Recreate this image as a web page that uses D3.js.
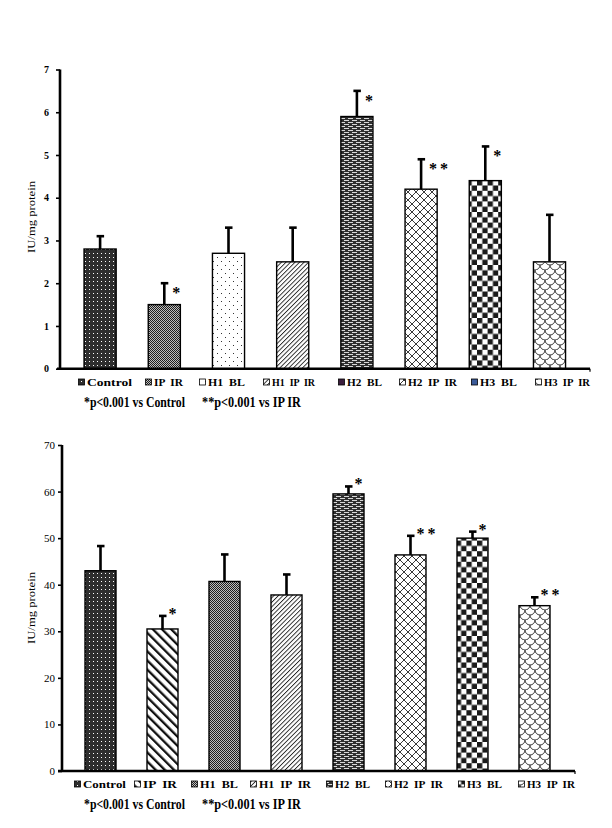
<!DOCTYPE html>
<html><head><meta charset="utf-8">
<script src="https://cdn.jsdelivr.net/npm/d3@7"></script>
<style>
html,body{margin:0;padding:0;background:#fff;}
svg{display:block;}
text{font-family:"Liberation Serif","Times New Roman",serif;fill:#000;}
</style></head>
<body>
<script>
// ---------- DATA ----------
const categories = ["Control","IP IR","H1 BL","H1 IP IR","H2 BL","H2 IP IR","H3 BL","H3 IP IR"];
const legendLabels = ["Control","IP  IR","H1  BL","H1  IP  IR","H2  BL","H2  IP  IR","H3  BL","H3  IP  IR"];

const topValues = [2.8, 1.5, 2.7, 2.5, 5.9, 4.2, 4.4, 2.5];
const topErrors = [0.3, 0.5, 0.6, 0.8, 0.6, 0.7, 0.8, 1.1];
const topSig    = ["", "*", "", "", "*", "**", "*", ""];
const topTicks  = [0, 1, 2, 3, 4, 5, 6, 7];

const bottomValues = [43.0, 30.5, 40.7, 37.8, 59.5, 46.4, 50.0, 35.5];
const bottomErrors = [5.3, 2.8, 5.8, 4.4, 1.6, 4.1, 1.4, 1.8];
const bottomSig    = ["", "*", "", "", "*", "**", "*", "**"];
const bottomTicks  = [0, 10, 20, 30, 40, 50, 60, 70];

const yLabel = "IU/mg protein";
const footnote1 = "*p<0.001 vs Control";
const footnote2 = "**p<0.001 vs IP IR";

// ---------- STYLE / LAYOUT ----------
const topPatterns    = ["dotsDark","mesh","dotsSparse","diagThin","dashDark","diamond","checker","scales"];
const bottomPatterns = ["dotsDark","stripeWide","mesh","diagThin","dashDark","diamond","checker","scales"];
const topSwatchOverride = {4:"#3b1e3d", 6:"#3b5b99"};

const charts = [
  {values: topValues, errors: topErrors, sig: topSig, ticks: topTicks, max: 7,
   patterns: topPatterns, swatch: topSwatchOverride,
   xRange: [68, 581.6], yRange: [368.7, 69.5], axisX: 60, xAxisStart: 57, xAxisEnd: 590,
   tickFont: {size: 10, weight: "bold"}, tickRight: 49,
   starDx: 8, starDy: 8, ylabelY: 217,
   legendY: 386, legendX: [87,154,208,272,347,408,480,544], legendW: [45,29,37,43,35,49,37,46],
   footY: 407},
  {values: bottomValues, errors: bottomErrors, sig: bottomSig, ticks: bottomTicks, max: 70,
   patterns: bottomPatterns, swatch: {},
   xRange: [69.5, 565.5], yRange: [771, 445], axisX: 62, xAxisStart: 58, xAxisEnd: 575,
   tickFont: {size: 11, weight: "normal"}, tickRight: 55,
   starDx: 6, starDy: -4, ylabelY: 608,
   legendY: 788, legendX: [83,143,200,259,335,394,467,527], legendW: [43,34,38,52,35,49,35,48],
   footY: 809}
];

const svg = d3.select("body").append("svg").attr("width", 612).attr("height", 828);
svg.append("rect").attr("width",612).attr("height",828).attr("fill","#fff");

// ---------- PATTERNS ----------
const defs = svg.append("defs");
function pat(id, w, h, tf) {
  const p = defs.append("pattern").attr("id", id).attr("patternUnits","userSpaceOnUse")
    .attr("width", w).attr("height", h);
  if (tf) p.attr("patternTransform", tf);
  return p;
}
let p;
p = pat("dotsDark", 4, 4);
p.append("rect").attr("width",4).attr("height",4).attr("fill","#2e2e2e");
p.append("rect").attr("x",1).attr("y",1).attr("width",1).attr("height",1).attr("fill","#fff");

p = pat("mesh", 2, 2);
p.append("rect").attr("width",2).attr("height",2).attr("fill","#bdbdbd");
p.append("rect").attr("width",1).attr("height",1).attr("fill","#1e1e1e");
p.append("rect").attr("x",1).attr("y",1).attr("width",1).attr("height",1).attr("fill","#1e1e1e");

p = pat("dotsSparse", 8, 8);
p.append("rect").attr("width",8).attr("height",8).attr("fill","#fff");
p.append("rect").attr("x",1).attr("y",1).attr("width",1).attr("height",1).attr("fill","#333");
p.append("rect").attr("x",5).attr("y",5).attr("width",1).attr("height",1).attr("fill","#333");

p = pat("diagThin", 3.2, 3.2, "rotate(45)");
p.append("rect").attr("width",3.2).attr("height",3.2).attr("fill","#fff");
p.append("rect").attr("width",0.9).attr("height",3.2).attr("fill","#222");

p = pat("stripeWide", 6.5, 6.5, "rotate(-45)");
p.append("rect").attr("width",6.5).attr("height",6.5).attr("fill","#fff");
p.append("rect").attr("width",2.3).attr("height",6.5).attr("fill","#111");

p = pat("dashDark", 8, 4);
p.append("rect").attr("width",8).attr("height",4).attr("fill","#2f2f2f");
p.append("rect").attr("x",0).attr("y",0).attr("width",5).attr("height",1).attr("fill","#d8d8d8");
p.append("rect").attr("x",4).attr("y",2).attr("width",4).attr("height",1).attr("fill","#d8d8d8");
p.append("rect").attr("x",0).attr("y",2).attr("width",1).attr("height",1).attr("fill","#d8d8d8");

p = pat("diamond", 8, 8);
p.append("rect").attr("width",8).attr("height",8).attr("fill","#fff");
p.append("path").attr("d","M-1,-1L9,9M9,-1L-1,9").attr("stroke","#222").attr("stroke-width",0.9);

p = pat("checker", 10.6, 10.6);
p.append("rect").attr("width",10.6).attr("height",10.6).attr("fill","#fff");
p.append("rect").attr("width",5.3).attr("height",5.3).attr("fill","#1a1a1a");
p.append("rect").attr("x",5.3).attr("y",5.3).attr("width",5.3).attr("height",5.3).attr("fill","#1a1a1a");

p = pat("scales", 10, 10);
p.append("rect").attr("width",10).attr("height",10).attr("fill","#fff");
p.append("path").attr("d",
  "M0,5 A5,5 0 0 0 10,5 M-5,0 A5,5 0 0 0 5,0 M5,0 A5,5 0 0 0 15,0 M-5,10 A5,5 0 0 0 5,10 M5,10 A5,5 0 0 0 15,10")
  .attr("stroke","#222").attr("stroke-width",0.9).attr("fill","none");

// squeeze a text horizontally to a target width (keeps real text, bbox honest)
function fitText(parent, str, x, y, w, opts) {
  const t = parent.append("text").attr("font-size", opts.size).attr("font-weight", opts.weight || "normal")
    .attr("xml:space","preserve").style("white-space","pre").text(str);
  const nat = t.node().getComputedTextLength();
  const s = w / nat;
  if (opts.rotate) {
    t.attr("text-anchor","middle").attr("transform", `translate(${x},${y}) rotate(-90) scale(${s},1)`);
  } else {
    t.attr("transform", `translate(${x},${y}) scale(${s},1)`);
  }
  return t;
}

// ---------- CHARTS ----------
charts.forEach(c => {
  const g = svg.append("g");
  const x = d3.scaleBand().domain(categories).range(c.xRange).paddingInner(0.5).paddingOuter(0.25);
  const y = d3.scaleLinear().domain([0, c.max]).range(c.yRange);
  const data = categories.map((k, i) => ({k, i, v: c.values[i], e: c.errors[i], s: c.sig[i], p: c.patterns[i]}));

  // error bars (upward only)
  const eb = g.append("g");
  data.forEach(d => {
    const cx = x(d.k) + x.bandwidth()/2;
    eb.append("line").attr("x1",cx).attr("x2",cx).attr("y1",y(d.v)).attr("y2",y(d.v+d.e))
      .attr("stroke","#000").attr("stroke-width",2.6);
    eb.append("line").attr("x1",cx-3.5).attr("x2",cx+4).attr("y1",y(d.v+d.e)).attr("y2",y(d.v+d.e))
      .attr("stroke","#000").attr("stroke-width",2.6);
  });

  // bars
  g.append("g").selectAll("rect").data(data).join("rect")
    .attr("x", d => x(d.k)).attr("width", x.bandwidth())
    .attr("y", d => y(d.v)).attr("height", d => y(0) - y(d.v))
    .attr("fill", d => `url(#${d.p})`).attr("stroke","#000").attr("stroke-width",1.4);

  // significance stars
  g.append("g").selectAll("text").data(data.filter(d => d.s)).join("text")
    .attr("x", d => x(d.k) + x.bandwidth()/2 + c.starDx)
    .attr("y", d => y(d.v + d.e) + c.starDy + 7)
    .attr("font-size", 16).attr("font-weight","bold").attr("letter-spacing", 3)
    .text(d => d.s);

  // y axis
  const yAxis = d3.axisLeft(y).tickValues(c.ticks).tickSize(4).tickPadding(c.axisX - c.tickRight - 4)
    .tickFormat(d3.format("d"));
  const ya = g.append("g").attr("transform", `translate(${c.axisX},0)`).call(yAxis);
  ya.select(".domain").remove();
  ya.selectAll(".tick line").attr("stroke","#000").attr("stroke-width",1.6);
  ya.selectAll(".tick text").attr("font-family",'"Liberation Serif",serif')
    .attr("font-size", c.tickFont.size).attr("font-weight", c.tickFont.weight).attr("fill","#000");
  g.append("line").attr("x1",c.axisX).attr("x2",c.axisX).attr("y1",y(c.max)).attr("y2",y(0))
    .attr("stroke","#000").attr("stroke-width",2.6);

  // x axis line
  g.append("line").attr("x1",c.xAxisStart).attr("x2",c.xAxisEnd).attr("y1",y(0)).attr("y2",y(0))
    .attr("stroke","#000").attr("stroke-width",2.6);
  g.append("line").attr("x1",c.xAxisEnd).attr("x2",c.xAxisEnd).attr("y1",y(0)).attr("y2",y(0)+3)
    .attr("stroke","#000").attr("stroke-width",1.2);

  // y label
  fitText(g, yLabel, 35, c.ylabelY, 72, {size: 10.5, rotate: true});

  // legend
  data.forEach(d => {
    const lx = c.legendX[d.i];
    const fill = c.swatch[d.i] || `url(#${d.p})`;
    g.append("rect").attr("x", lx - 8.5).attr("y", c.legendY - 7).attr("width",6).attr("height",6)
      .attr("fill", fill).attr("stroke","#000").attr("stroke-width",0.8);
    fitText(g, legendLabels[d.i], lx, c.legendY, c.legendW[d.i], {size: 11, weight: "bold"});
  });

  // footnotes
  fitText(g, footnote1, 84, c.footY, 101, {size: 15.5, weight: "bold"});
  fitText(g, footnote2, 202, c.footY, 99, {size: 15.5, weight: "bold"});
});
</script>
</body></html>
